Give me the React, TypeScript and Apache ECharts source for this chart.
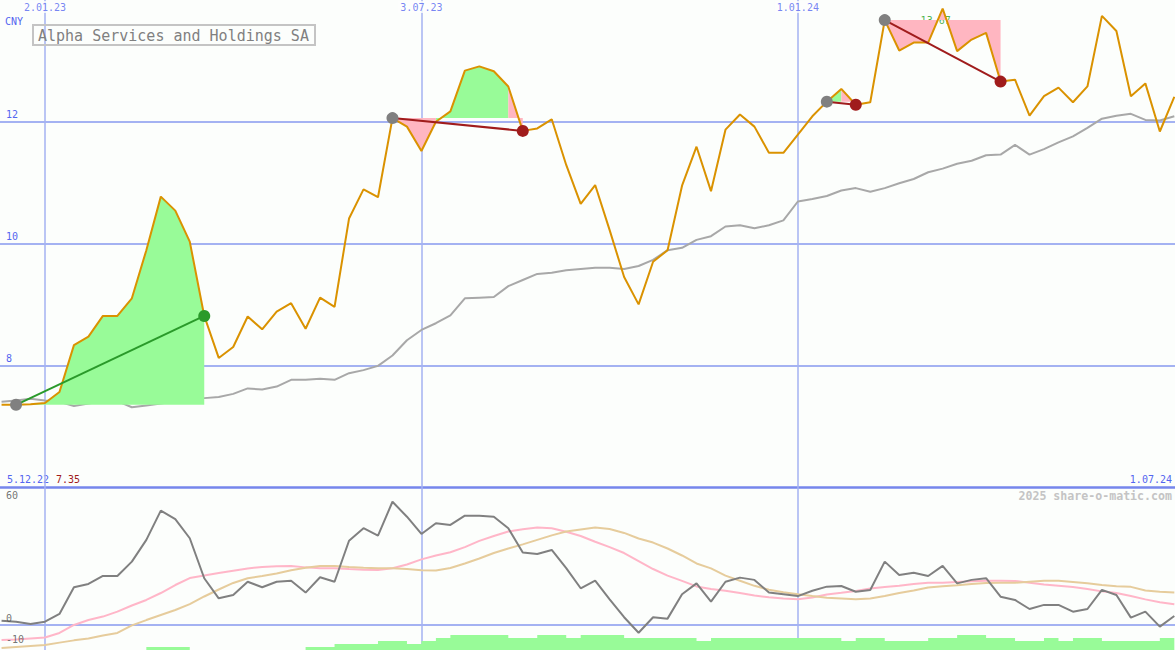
import React, { useEffect, useRef } from 'react';
import * as echarts from 'echarts';

// ---------- data ----------
const FIRST_WEEK = [2022, 11, 12]; // Monday 12.12.22, weekly closes
const WEEK_COUNT = 82;

const price = [
  7.35, 7.35, 7.36, 7.38, 7.56, 8.33, 8.47, 8.81, 8.81, 9.10,
  9.89, 10.77, 10.54, 10.03, 8.81, 8.12, 8.30, 8.80, 8.59, 8.88,
  9.02, 8.60, 9.11, 8.96, 10.41, 10.89, 10.76, 12.06, 11.92, 11.52,
  12.00, 12.17, 12.84, 12.91, 12.83, 12.58, 11.85, 11.89, 12.04, 11.29,
  10.65, 10.96, 10.22, 9.45, 9.00, 9.70, 9.89, 10.95, 11.59, 10.86,
  11.87, 12.12, 11.92, 11.49, 11.49, 11.79, 12.09, 12.33, 12.54, 12.28,
  12.32, 13.67, 13.17, 13.30, 13.30, 13.86, 13.16, 13.35, 13.46, 12.66,
  12.69, 12.10, 12.42, 12.56, 12.32, 12.58, 13.74, 13.49, 12.42, 12.63,
  11.84, 12.41,
];

const movingAvg = [
  7.40, 7.42, 7.45, 7.42, 7.40, 7.33, 7.37, 7.41, 7.41, 7.31,
  7.34, 7.37, 7.41, 7.48, 7.46, 7.48, 7.53, 7.62, 7.60, 7.65,
  7.76, 7.76, 7.78, 7.76, 7.87, 7.92, 7.99, 8.16, 8.41, 8.58,
  8.69, 8.82, 9.10, 9.11, 9.12, 9.30, 9.40, 9.50, 9.52, 9.56,
  9.58, 9.60, 9.60, 9.58, 9.63, 9.73, 9.89, 9.93, 10.06, 10.12,
  10.28, 10.30, 10.25, 10.30, 10.38, 10.69, 10.73, 10.78, 10.87, 10.91,
  10.85, 10.91, 10.99, 11.06, 11.17, 11.23, 11.31, 11.36, 11.45, 11.46,
  11.62, 11.46, 11.55, 11.66, 11.76, 11.90, 12.05, 12.10, 12.13, 12.03,
  12.02, 12.09,
];

const oscillator = [
  2.1, 1.6, 0.5, 1.6, 5.4, 18.4, 20.0, 23.9, 23.9, 30.9,
  41.5, 55.8, 51.6, 42.3, 22.8, 13.0, 14.6, 21.1, 18.4, 21.1,
  21.6, 15.8, 23.3, 21.1, 41.1, 47.2, 43.6, 60.1, 52.8, 44.4,
  49.6, 48.8, 53.3, 53.3, 52.8, 47.2, 35.3, 34.6, 36.6, 27.7,
  17.9, 21.6, 12.5, 3.8, -3.8, 3.8, 3.1, 15.0, 20.3, 11.4,
  21.1, 23.1, 22.0, 15.8, 15.0, 14.1, 16.7, 18.7, 19.0, 16.2,
  17.1, 30.9, 24.4, 25.5, 23.9, 28.8, 20.3, 22.0, 22.8, 13.8,
  12.2, 7.8, 9.8, 9.8, 6.5, 7.8, 17.1, 14.6, 3.6, 6.5,
  -0.8, 4.4,
];

const signalFast = [
  -7.3, -7.1, -6.6, -6.1, -3.9, 0.0, 2.4, 4.1, 6.5, 9.5,
  12.2, 15.6, 19.5, 22.9, 24.1, 25.4, 26.5, 27.6, 28.3, 28.6,
  28.8, 28.1, 27.7, 27.7, 27.3, 27.0, 26.8, 27.7, 29.5, 32.0,
  33.9, 35.5, 38.0, 41.0, 43.4, 45.6, 46.7, 47.5, 47.2, 45.5,
  43.4, 40.6, 38.0, 35.1, 31.2, 27.3, 24.1, 21.5, 18.8, 17.6,
  16.7, 15.6, 14.4, 13.5, 12.9, 12.5, 13.4, 14.9, 15.7, 16.6,
  17.8, 18.5, 19.1, 20.0, 20.6, 20.6, 21.0, 21.3, 21.6, 21.6,
  21.5, 20.6, 19.7, 19.1, 18.5, 17.6, 16.4, 15.6, 14.1, 12.5,
  11.1, 10.1,
];

const signalSlow = [
  -11.2, -10.7, -10.2, -9.8, -8.6, -7.5, -6.6, -5.1, -3.9, -0.2,
  2.4, 4.9, 7.3, 10.2, 13.9, 17.3, 20.5, 22.8, 23.9, 25.1,
  26.7, 27.9, 28.8, 28.8, 28.3, 27.9, 27.7, 27.7, 27.3, 26.7,
  26.6, 27.8, 30.0, 32.4, 35.1, 37.3, 39.3, 41.5, 43.7, 45.6,
  46.6, 47.5, 46.8, 44.9, 42.2, 40.2, 37.3, 33.9, 30.0, 27.6,
  24.1, 21.6, 19.1, 17.2, 16.0, 15.0, 14.1, 13.3, 12.9, 12.5,
  12.9, 14.1, 15.6, 16.8, 18.3, 18.9, 19.4, 20.0, 20.5, 20.6,
  20.6, 21.1, 21.6, 21.6, 21.0, 20.3, 19.5, 18.9, 18.6, 16.8,
  16.2, 15.8,
];

const volumeLevel = [
  0, 0, 0, 0, 0, 0, 0, 0, 0, 0,
  1, 1, 1, 0, 0, 0, 0, 0, 0, 0,
  0, 1, 1, 2, 2, 2, 3, 3, 2, 3,
  4, 5, 5, 5, 5, 4, 4, 5, 5, 4,
  5, 5, 5, 4, 4, 4, 4, 4, 3, 4,
  4, 4, 4, 4, 4, 4, 4, 4, 3, 4,
  4, 3, 3, 3, 4, 4, 5, 5, 4, 4,
  3, 3, 4, 3, 4, 4, 3, 3, 3, 3,
  4, 4,
];

// trades: indices of entry and exit week
const tradeEntry = [1, 27, 57, 61];
const tradeExit = [14, 36, 59, 69];

const gridDates = ['2023-01-02', '2023-07-03', '2024-01-01'];
const gridDateLabels = ['2.01.23', '3.07.23', '1.01.24'];
const priceTicks = [8, 10, 12];
const oscTicks = [60, 0, -10];
const titleText = 'Alpha Services and Holdings SA';
const currencyText = 'CNY';
const rangeStartLabel = '5.12.22';
const rangeEndLabel = '1.07.24';
const minPriceLabel = '7.35';
const maxPriceLabel = '13.67';
const creditText = '2025 share-o-matic.com';

// ---------- styles ----------
const BG = '#fcfefc';
const MONO = '"DejaVu Sans Mono", "Liberation Mono", monospace';
const BLUE_TEXT = '#5466f0';
const GRID_BLUE = '#a4b2f2';
const AXIS_BLUE = '#7686ec';
const PRICE_COLOR = '#da9200';
const MA_COLOR = '#a8a8a8';
const GAIN_FILL = '#98fb98';
const LOSS_FILL = '#ffb6c1';
const WIN_COLOR = '#2a9a2a';
const LOSS_COLOR = '#a01c1c';
const ENTRY_COLOR = '#808080';

const dayMs = 86400000;
const dates = Array.from({ length: WEEK_COUNT }, (_, i) =>
  Date.UTC(FIRST_WEEK[0], FIRST_WEEK[1], FIRST_WEEK[2] + 7 * i)
);
const X_MIN = dates[0] - 0.75 * dayMs;
const X_MAX = dates[WEEK_COUNT - 1] + (1 / 3) * dayMs;

const toTs = (s: string) => {
  const [y, m, d] = s.split('-').map(Number);
  return Date.UTC(y, m - 1, d);
};

function pairs(values: number[]) {
  return values.map((v, i) => [dates[i], v]);
}

function buildFills() {
  const out: any[] = [];
  tradeEntry.forEach((e, ti) => {
    const x = tradeExit[ti];
    const base = price[e];
    const green: any[] = [];
    const pink: any[] = [];
    for (let k = e; k <= x; k++) {
      const prevUp = k > e ? price[k] >= base : null;
      const nextUp = k < x ? price[k + 1] >= base : null;
      const inG = prevUp === true || nextUp === true;
      const inP = prevUp === false || nextUp === false;
      green.push([dates[k], inG ? price[k] : null]);
      pink.push([dates[k], inP ? price[k] : null]);
    }
    [[green, GAIN_FILL], [pink, LOSS_FILL]].forEach(([data, color]) => {
      out.push({
        type: 'line',
        xAxisIndex: 0,
        yAxisIndex: 0,
        data,
        symbol: 'none',
        connectNulls: false,
        silent: true,
        lineStyle: { width: 0, opacity: 0 },
        areaStyle: { color, opacity: 1, origin: base },
        z: 3,
      });
    });
  });
  return out;
}

function buildTrades() {
  return tradeEntry.map((e, ti) => {
    const x = tradeExit[ti];
    const win = price[x] >= price[e];
    const c = win ? WIN_COLOR : LOSS_COLOR;
    return {
      type: 'line',
      xAxisIndex: 0,
      yAxisIndex: 0,
      data: [
        { value: [dates[e], price[e]], itemStyle: { color: ENTRY_COLOR } },
        { value: [dates[x], price[x]], itemStyle: { color: c } },
      ],
      symbol: 'circle',
      symbolSize: 12,
      showSymbol: true,
      silent: true,
      lineStyle: { color: c, width: 2 },
      z: 5,
    };
  });
}

export default function App() {
  const ref = useRef<HTMLDivElement>(null);

  useEffect(() => {
    if (!ref.current) return;
    const chart = echarts.init(ref.current, null, { renderer: 'svg' });

    const vLines = gridDates.map((d) => ({ xAxis: toTs(d) }));
    const maxIdx = price.indexOf(Math.max(...price));

    const option: any = {
      animation: false,
      backgroundColor: BG,
      textStyle: { fontFamily: MONO },
      title: {
        text: titleText,
        left: 33,
        top: 25,
        padding: [3, 6, 2, 5],
        borderColor: '#c4c4c4',
        borderWidth: 2,
        textStyle: {
          fontFamily: MONO,
          fontSize: 15,
          fontWeight: 'normal',
          color: '#808080',
        },
      },
      grid: [
        { left: 0, width: 1175, top: 0, height: 487 },
        { left: 0, width: 1175, top: 487, height: 163 },
        { left: 0, width: 1175, top: 487, height: 163 },
      ],
      xAxis: [0, 1, 2].map((g) => ({
        type: 'time',
        gridIndex: g,
        min: X_MIN,
        max: X_MAX,
        axisTick: { show: false },
        axisLabel: { show: false },
        splitLine: { show: false },
        axisLine:
          g === 0
            ? { show: true, onZero: false, lineStyle: { color: AXIS_BLUE, width: 2.5 } }
            : g === 1
            ? { show: true, onZero: true, lineStyle: { color: GRID_BLUE, width: 2 } }
            : { show: false },
      })),
      yAxis: [
        {
          type: 'value',
          gridIndex: 0,
          min: 6,
          max: 14,
          interval: 2,
          axisLine: { show: false },
          axisTick: { show: false },
          splitLine: { show: false },
          axisLabel: {
            inside: true,
            margin: 6,
            verticalAlign: 'bottom',
            color: BLUE_TEXT,
            fontFamily: MONO,
            fontSize: 10,
            padding: [0, 0, 2, 0],
            formatter: (v: number) => (priceTicks.includes(v) ? String(v) : ''),
          },
        },
        {
          type: 'value',
          gridIndex: 1,
          min: -12.2,
          max: 67.3,
          axisLine: { show: false },
          axisTick: { show: false },
          splitLine: { show: false },
          axisLabel: { show: false },
        },
        {
          type: 'value',
          gridIndex: 2,
          min: 0,
          max: 163 / 3,
          axisLine: { show: false },
          axisTick: { show: false },
          splitLine: { show: false },
          axisLabel: { show: false },
        },
      ],
      series: [
        // top gridlines
        {
          type: 'line',
          xAxisIndex: 0,
          yAxisIndex: 0,
          data: [],
          silent: true,
          markLine: {
            silent: true,
            z: 1,
            symbol: 'none',
            label: { show: false },
            lineStyle: { color: GRID_BLUE, width: 1.5, type: 'solid' },
            data: [
              ...vLines,
              ...priceTicks.map((v) => ({ yAxis: v, lineStyle: { width: 2 } })),
            ],
          },
        },
        // moving average
        {
          type: 'line',
          xAxisIndex: 0,
          yAxisIndex: 0,
          data: pairs(movingAvg),
          symbol: 'none',
          silent: true,
          lineStyle: { color: MA_COLOR, width: 2 },
          z: 2,
        },
        // max price label
        {
          type: 'scatter',
          xAxisIndex: 0,
          yAxisIndex: 0,
          data: [[dates[maxIdx], price[tradeEntry[3]]]],
          symbolSize: 0,
          silent: true,
          clip: false,
          label: {
            show: true,
            position: 'inside',
            offset: [-7, 0],
            formatter: maxPriceLabel,
            color: '#22a022',
            fontFamily: MONO,
            fontSize: 10,
          },
          z: 2,
        },
        ...buildFills(),
        // price
        {
          type: 'line',
          xAxisIndex: 0,
          yAxisIndex: 0,
          data: pairs(price),
          symbol: 'none',
          silent: true,
          lineStyle: { color: PRICE_COLOR, width: 2 },
          z: 4,
        },
        ...buildTrades(),
        // date labels at top
        {
          type: 'scatter',
          xAxisIndex: 0,
          yAxisIndex: 0,
          data: gridDates.map((d, i) => ({ value: [toTs(d), 14], label: { formatter: gridDateLabels[i] } })),
          symbolSize: 0,
          silent: true,
          clip: false,
          label: {
            show: true,
            position: 'bottom',
            distance: 1,
            color: BLUE_TEXT,
            fontFamily: MONO,
            fontSize: 10,
            backgroundColor: BG,
            padding: [1, 2, 1, 2],
          },
          z: 6,
        },
        // volume-like bars
        {
          type: 'line',
          xAxisIndex: 2,
          yAxisIndex: 2,
          data: pairs(volumeLevel),
          step: 'end',
          symbol: 'none',
          silent: true,
          lineStyle: { width: 0, opacity: 0 },
          areaStyle: { color: GAIN_FILL, opacity: 1 },
          z: 2,
        },
        // bottom gridlines
        {
          type: 'line',
          xAxisIndex: 1,
          yAxisIndex: 1,
          data: [],
          silent: true,
          markLine: {
            silent: true,
            z: 1,
            symbol: 'none',
            label: { show: false },
            lineStyle: { color: GRID_BLUE, width: 1.5, type: 'solid' },
            data: vLines,
          },
        },
        {
          type: 'line',
          xAxisIndex: 1,
          yAxisIndex: 1,
          data: pairs(signalFast),
          symbol: 'none',
          silent: true,
          lineStyle: { color: '#ffb6c8', width: 2 },
          z: 3,
        },
        {
          type: 'line',
          xAxisIndex: 1,
          yAxisIndex: 1,
          data: pairs(signalSlow),
          symbol: 'none',
          silent: true,
          lineStyle: { color: '#e6cc9c', width: 2 },
          z: 3,
        },
        {
          type: 'line',
          xAxisIndex: 1,
          yAxisIndex: 1,
          data: pairs(oscillator),
          symbol: 'none',
          silent: true,
          lineStyle: { color: '#808080', width: 2 },
          z: 4,
        },
        // oscillator level labels
        {
          type: 'scatter',
          xAxisIndex: 1,
          yAxisIndex: 1,
          data: oscTicks.map((v) => [X_MIN, v]),
          symbolSize: 0,
          silent: true,
          clip: false,
          label: {
            show: true,
            position: 'right',
            distance: 6,
            offset: [0, -6],
            formatter: (p: any) => String(p.value[1]),
            color: '#505050',
            fontFamily: MONO,
            fontSize: 10,
          },
          z: 5,
        },
      ],
      graphic: [
        {
          type: 'text',
          x: 5,
          y: 21,
          style: {
            text: currencyText,
            fill: BLUE_TEXT,
            fontFamily: MONO,
            fontSize: 10,
            textVerticalAlign: 'middle',
          },
        },
        {
          type: 'text',
          x: 7,
          y: 479,
          style: {
            text: rangeStartLabel,
            fill: BLUE_TEXT,
            fontFamily: MONO,
            fontSize: 10,
            textVerticalAlign: 'middle',
          },
        },
        {
          type: 'text',
          x: 56,
          y: 479,
          style: {
            text: minPriceLabel,
            fill: LOSS_COLOR,
            fontFamily: MONO,
            fontSize: 10,
            textVerticalAlign: 'middle',
          },
        },
        {
          type: 'text',
          x: 1172,
          y: 479,
          style: {
            text: rangeEndLabel,
            fill: BLUE_TEXT,
            fontFamily: MONO,
            fontSize: 10,
            textAlign: 'right',
            textVerticalAlign: 'middle',
          },
        },
        {
          type: 'text',
          x: 1172,
          y: 496,
          style: {
            text: creditText,
            fill: '#c4c4c4',
            fontFamily: MONO,
            fontSize: 11.6,
            fontWeight: 'bold',
            textAlign: 'right',
            textVerticalAlign: 'middle',
          },
        },
      ],
    };

    chart.setOption(option);
    return () => chart.dispose();
  }, []);

  return (
    <div
      ref={ref}
      style={{ position: 'absolute', left: 0, top: 0, width: 1175, height: 650 }}
    />
  );
}
